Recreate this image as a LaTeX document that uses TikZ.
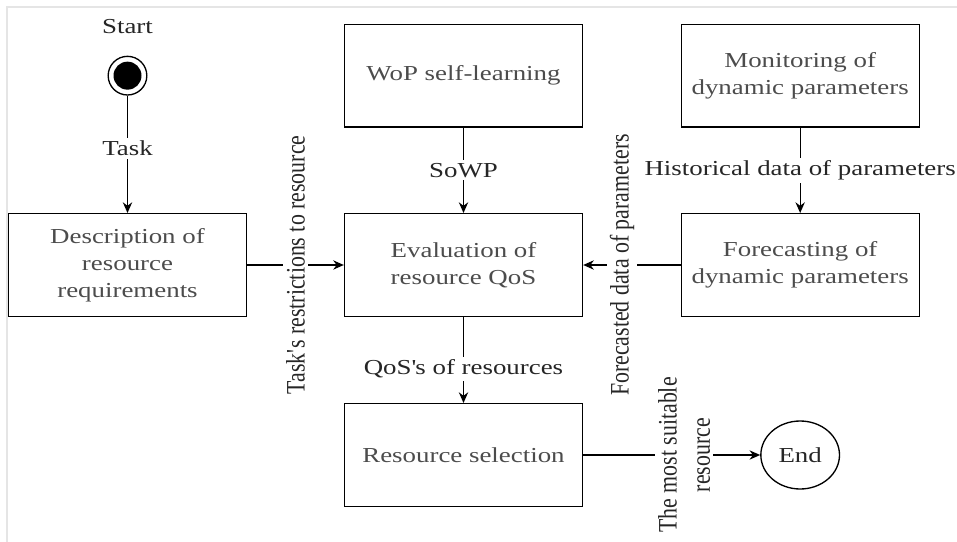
\documentclass[tikz,border=0pt]{standalone}
\usepackage{fontspec}
\setmainfont{Liberation Serif}[FakeStretch=1.26]
\newfontfamily\rotfont{Liberation Serif}[FakeStretch=0.82]
\usetikzlibrary{positioning,arrows.meta,shapes.geometric}

\tikzset{
    box/.style={draw, line width=1pt, minimum width=178.5pt, minimum height=77pt,
        inner sep=0pt, align=center, text=black!70},
    lbl/.style={fill=white, inner sep=2pt, text=black!85},
    rotlbl/.style={lbl, rotate=90, align=center,
        font=\rotfont\fontsize{20}{25}\selectfont},
    startnode/.style={circle, draw, line width=1pt, minimum size=29pt,
        path picture={\fill (path picture bounding box.center) circle (10.5pt);}},
    endnode/.style={ellipse, draw, line width=1pt, minimum width=59pt,
        minimum height=51pt, text=black!85},
}

\begin{document}
\begin{tikzpicture}[x=0.75pt, y=-0.75pt, line width=1pt,
        font=\fontsize{16}{20.3}\selectfont,
        >={Stealth[length=8pt,width=7pt]}]
        \useasboundingbox (0,0) rectangle (957,542);
        \draw[black!10, line width=1.5pt] (7,542) -- (7,7) -- (957,7);

        \node[box](1) at (127.5,265) {Description of\\resource\\requirements};
        \node[box](2)[right=72.5pt of 1] {Evaluation of\\resource QoS};
        \node[box](3)[right=73pt of 2] {Forecasting of\\dynamic parameters};
        \node[box](4)[above=64pt of 2] {WoP self-learning};
        \node[box](5)[above=64pt of 3] {Monitoring of\\dynamic parameters};
        \node[box](6)[below=64.5pt of 2] {Resource selection};
        \node[startnode, label={[label distance=13pt, text=black!85]above:Start}](0) at (1 |- 4) {};
        \node[endnode](7) at (6 -| 3) {End};

        \draw[->] (0) -- node[lbl, pos=0.45] {Task} (1);
        \draw[->] (1) -- node[rotlbl] {Task\textquotesingle s restrictions to resource} (2);
        \draw[->] (4) -- node[lbl] {SoWP} (2);
        \draw[->] (5) -- node[lbl] {Historical data of parameters} (3);
        \draw[->] (3) -- node[rotlbl, pos=0.6] {Forecasted data of parameters} (2);
        \draw[->] (2) -- node[lbl, pos=0.6] {QoS\textquotesingle s of resources} (6);
        \draw[->] (6) -- node[rotlbl, pos=0.57] {The most suitable\\resource} (7);
    \end{tikzpicture}
\end{document}
